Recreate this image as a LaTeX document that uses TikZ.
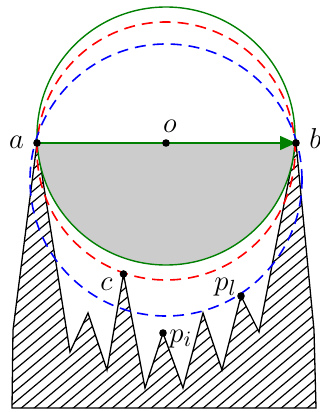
\documentclass[tikz,border=0pt]{standalone}
\usetikzlibrary{arrows.meta}
\definecolor{ggreen}{RGB}{0,128,0}
\definecolor{rred}{RGB}{255,0,0}
\definecolor{bblue}{RGB}{0,0,255}
\begin{document}
\begin{tikzpicture}[x=0.5pt,y=-0.5pt,
  lbl/.style={font=\fontsize{15}{18}\selectfont, inner sep=0pt},
  dotn/.style={circle,fill=black,inner sep=0pt,minimum size=3.8pt},
  dashc/.style={dash pattern=on 5.5pt off 3.5pt, line width=0.8pt},
  hatchline/.style={line width=0.6pt},
  edge/.style={line width=0.65pt, line join=miter}]
\useasboundingbox (0,0) rectangle (320,412);
% points
\coordinate (a) at (37,143);
\coordinate (b) at (296,143);
\coordinate (o) at (166,143);
\coordinate (c) at (123.5,274);
\coordinate (pi) at (163,333);
\coordinate (pl) at (241,296);
\coordinate (cg) at (166,136);
\coordinate (cr) at (166,151);
\coordinate (cb) at (166,180);
% hatched obstacle
\def\obstacle{(a) -- (70,352) -- (88,313) -- (107,370) -- (c) -- (145,388) -- (pi)
  -- (183,388) -- (203,313) -- (222,370) -- (pl) -- (259,332) -- (b)
  -- (314,330) -- (316,408) -- (12,408) -- (13,330) -- cycle}
\begin{scope}
\clip \obstacle;
\foreach \x in {-500,-487,...,340}
  \draw[hatchline] (\x,420) -- ++(500,-419.5);
\end{scope}
\draw[edge] \obstacle;
% gray half disc
\begin{scope}
\clip (0,143) rectangle (320,412);
\fill[black!20] (cg) circle[radius=64.5pt];
\end{scope}
% circles
\draw[ggreen, line width=0.7pt] (cg) circle[radius=64.5pt];
\draw[rred, dashc] (cr) circle[radius=64.5pt];
\draw[bblue, dashc] (cb) circle[radius=68pt];
% arrow
\draw[ggreen, line width=0.7pt, -{Triangle[length=8pt,width=7pt]}] (a) -- (b);
% dots
\node[dotn] (da) at (a) {};
\node[dotn] (db) at (b) {};
\node[dotn] (do) at (o) {};
\node[dotn] (dc) at (c) {};
\node[dotn] (dpi) at (pi) {};
\node[dotn] (dpl) at (pl) {};
% labels
\node[lbl, anchor=base] (la) at (16.5,148) {$a$};
\node[lbl, anchor=base west] (lb) at (309,148) {$b$};
\node[lbl, anchor=base] (lo) at (170,132) {$o$};
\node[lbl, anchor=base] (lc) at (106.5,290) {$c$};
\node[lbl, anchor=base west] (lpl) at (214,290) {$p_l$};
\node[lbl, anchor=base west] (lpi) at (169,342) {$p_i$};
\end{tikzpicture}
\end{document}
